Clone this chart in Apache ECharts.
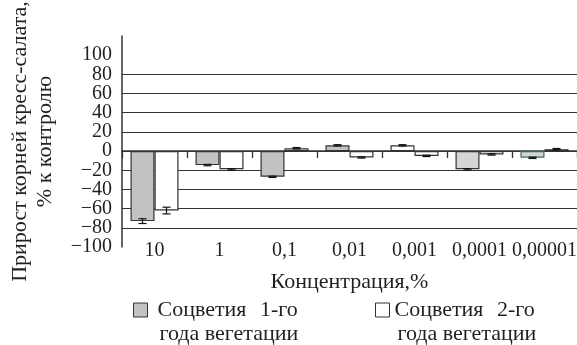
<!DOCTYPE html>
<html><head><meta charset="utf-8">
<script src="https://cdn.jsdelivr.net/npm/echarts@6/dist/echarts.min.js"></script>
<style>html,body{margin:0;padding:0;background:#fff}#c{width:577px;height:345px}</style>
</head><body><div id="c"></div>
<script>
const categories = ['10', '1', '0,1', '0,01', '0,001', '0,0001', '0,00001'];
const series1Name = 'Соцветия 1-го года вегетации';
const series2Name = 'Соцветия 2-го года вегетации';
const series1 = [-73, -14.6, -26.8, 6, 6, -19, -7];
const series2 = [-62, -19, 3, -6.6, -5, -3.5, 2];
const err1 = [2.5, 0.7, 0.7, 0.7, 0.7, 0.7, 0.7];
const err2 = [3.5, 0.7, 0.7, 0.7, 0.7, 0.7, 0.7];
const yTicks = [-100, -80, -60, -40, -20, 0, 20, 40, 60, 80, 100];

const FONT = 'Liberation Serif';
const TXT = '#231f20';
const LINE = '#333333';
const GRAY = '#c2c2c4';

// appearance overrides for individual bars of series 1 (as printed in reference)
const s1Overrides = {4: {color: '#ffffff'}, 5: {color: '#d6d6d6'}, 6: {color: '#d2d6d2', borderColor: '#3f6b55'}};

const chart = echarts.init(document.getElementById('c'), null, {renderer: 'canvas'});

function errSeries(vals, errs, offset) {
  return {
    type: 'custom',
    xAxisIndex: 0,
    z: 5,
    data: vals.map((v, i) => [i, v - errs[i], v + errs[i]]),
    renderItem: function (params, api) {
      const lo = api.coord([api.value(0), api.value(1)]);
      const hi = api.coord([api.value(0), api.value(2)]);
      const x = lo[0] + offset;
      const hw = 4;
      const st = {stroke: '#111', lineWidth: 1.2};
      return {type: 'group', children: [
        {type: 'line', shape: {x1: x, y1: lo[1], x2: x, y2: hi[1]}, style: st},
        {type: 'line', shape: {x1: x - hw, y1: lo[1], x2: x + hw, y2: lo[1]}, style: st},
        {type: 'line', shape: {x1: x - hw, y1: hi[1], x2: x + hw, y2: hi[1]}, style: st}
      ]};
    }
  };
}

function legendFmt(name) {
  const parts = name.split(' года ');
  const w = parts[0].split(' ');
  return '{e| }\n{a|' + w[0] + ' }{c|' + w[1] + '}\n{b|года ' + parts[1] + '}';
}

const legendRich = (padA, padB) => ({
  e: {lineHeight: 24, fontSize: 22, fontFamily: FONT},
  a: {fontFamily: FONT, fontSize: 22, color: TXT, lineHeight: 24, padding: [0, 0, 0, padA]},
  c: {fontFamily: FONT, fontSize: 22, color: TXT, lineHeight: 24, padding: [0, 0, 0, 8]},
  b: {fontFamily: FONT, fontSize: 22, color: TXT, lineHeight: 24, padding: [0, 0, 0, padB]}
});

const fmtNum = v => (v < 0 ? '\u2212' + Math.abs(v) : String(v));

const lineColors = yTicks.map(v => (v === -100 || v === 100) ? 'rgba(0,0,0,0)' : LINE);
lineColors.push('rgba(0,0,0,0)');

const yBase = {type: 'value', min: -100, max: 120, interval: 20, position: 'left', axisTick: {show: false}};

chart.setOption({
  animation: false,
  backgroundColor: '#fff',
  grid: {left: 122, right: 0, top: 36, bottom: 98, outerBoundsMode: 'none', containLabel: false},
  legend: [
    {
      left: 133, top: 275, padding: 0,
      itemWidth: 14, itemHeight: 14,
      data: [{name: series1Name, icon: 'rect', itemStyle: {color: GRAY, borderColor: LINE, borderWidth: 1}}],
      formatter: legendFmt,
      textStyle: {fontFamily: FONT, fontSize: 22, color: TXT, rich: legendRich(5, 7)}
    },
    {
      left: 375, top: 275, padding: 0,
      itemWidth: 14, itemHeight: 14,
      data: [{name: series2Name, icon: 'rect', itemStyle: {color: '#ffffff', borderColor: LINE, borderWidth: 1}}],
      formatter: legendFmt,
      textStyle: {fontFamily: FONT, fontSize: 22, color: TXT, rich: legendRich(0, 3)}
    }
  ],
  xAxis: [
    {
      type: 'category', data: categories, position: 'bottom',
      axisLine: {show: true, onZero: true, onZeroAxisIndex: 0, lineStyle: {color: LINE, width: 1.5}},
      axisTick: {show: true, length: 7, lineStyle: {color: LINE, width: 1.3}},
      axisLabel: {show: false},
      splitLine: {show: false}
    },
    {
      type: 'category', data: categories, position: 'bottom',
      axisLine: {show: false, onZero: false},
      axisTick: {show: false},
      axisLabel: {show: true, interval: 0, margin: -6, fontFamily: FONT, fontSize: 20, color: TXT},
      name: 'Концентрация,%', nameLocation: 'middle', nameGap: 24,
      nameTextStyle: {fontFamily: FONT, fontSize: 22, color: TXT}
    }
  ],
  yAxis: [
    Object.assign({}, yBase, {
      axisLine: {show: true, onZero: false, lineStyle: {color: LINE, width: 1.5}},
      axisLabel: {margin: 10, fontFamily: FONT, fontSize: 20, color: TXT,
        formatter: v => (v > 100 || v === -100) ? '' : fmtNum(v)},
      splitLine: {show: true, lineStyle: {color: lineColors, width: 1.2}},
      name: 'Прирост корней кресс-салата,\n% к контролю',
      nameLocation: 'middle', nameGap: 64, nameRotate: 90,
      nameTextStyle: {fontFamily: FONT, fontSize: 22, color: TXT, lineHeight: 25, align: 'center'}
    }),
    Object.assign({}, yBase, {
      axisLine: {show: false, onZero: false},
      splitLine: {show: false},
      axisLabel: {margin: 10, showMinLabel: true, fontFamily: FONT, fontSize: 20, color: TXT,
        formatter: v => v === -100 ? fmtNum(v) : ''}
    })
  ],
  series: [
    {
      name: series1Name, type: 'bar', xAxisIndex: 0, yAxisIndex: 0, barWidth: 24, barGap: '0%',
      itemStyle: {color: GRAY, borderColor: LINE, borderWidth: 1.2},
      data: series1.map((v, i) => s1Overrides[i] ? {value: v, itemStyle: s1Overrides[i]} : v)
    },
    {
      name: series2Name, type: 'bar', xAxisIndex: 0, yAxisIndex: 0, barWidth: 24, barGap: '0%',
      itemStyle: {color: '#ffffff', borderColor: LINE, borderWidth: 1.2},
      data: series2
    },
    errSeries(series1, err1, -12),
    errSeries(series2, err2, 12)
  ]
});
</script></body></html>
